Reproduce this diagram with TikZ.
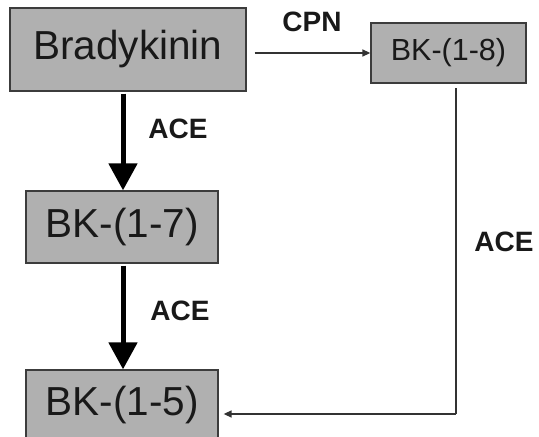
\documentclass[tikz,border=0pt]{standalone}
\usepackage{fontspec}
\setmainfont{Liberation Sans}
\usetikzlibrary{arrows.meta}
\definecolor{boxfill}{RGB}{176,176,176}
\definecolor{boxline}{RGB}{60,60,60}
\tikzset{
  species/.style={draw=boxline, line width=1.3pt, fill=boxfill, rectangle, inner sep=0pt, text=black!90},
  enzyme/.style={font=\fontsize{28}{32}\selectfont\bfseries, text=black!90},
  mainflow/.style={line width=5pt, -{Triangle[length=27pt,width=28pt]}},
  sideflow/.style={line width=1.4pt, draw=black!80, -{Triangle[length=8pt,width=7pt]}}
}
\begin{document}
\begin{tikzpicture}[x=1pt,y=-1pt]
  \useasboundingbox (0,0) rectangle (539,437);
  % peptide boxes
  \node[species, minimum width=236pt, minimum height=83pt, font=\fontsize{40.5}{46}\selectfont] (brady) at (128,49.5) {Bradykinin};
  \node[species, minimum width=155pt, minimum height=60pt, font=\fontsize{30.5}{36}\selectfont] (bk18) at (448.5,53) {BK-(1-8)};
  \node[species, minimum width=192pt, minimum height=72pt, font=\fontsize{40.5}{46}\selectfont] (bk17) at (122,227) {BK-(1-7)};
  \node[species, minimum width=192pt, minimum height=70pt, font=\fontsize{40.5}{46}\selectfont] (bk15) at (122,405) {BK-(1-5)};
  % cleavage pathways
  \draw[sideflow, shorten <=8pt] (brady.east |- bk18.west) -- (bk18.west);
  \draw[mainflow, shorten <=2pt] (brady.south -| 123,0) -- (bk17.north -| 123,0);
  \draw[mainflow, shorten <=2pt] (bk17.south -| 123,0) -- (bk15.north -| 123,0);
  \coordinate (drop) at (456,88);
  \coordinate (turn) at (456,414);
  \draw[sideflow, -] (drop) -- (turn);
  \draw[sideflow, shorten >=5pt] (turn) -- (bk15.east |- turn);
  % enzyme labels
  \node[enzyme] (cpn) at (312,22) {CPN};
  \node[enzyme] (ace1) at (178,129) {ACE};
  \node[enzyme] (ace2) at (180,311) {ACE};
  \node[enzyme] (ace3) at (504,242) {ACE};
\end{tikzpicture}
\end{document}
